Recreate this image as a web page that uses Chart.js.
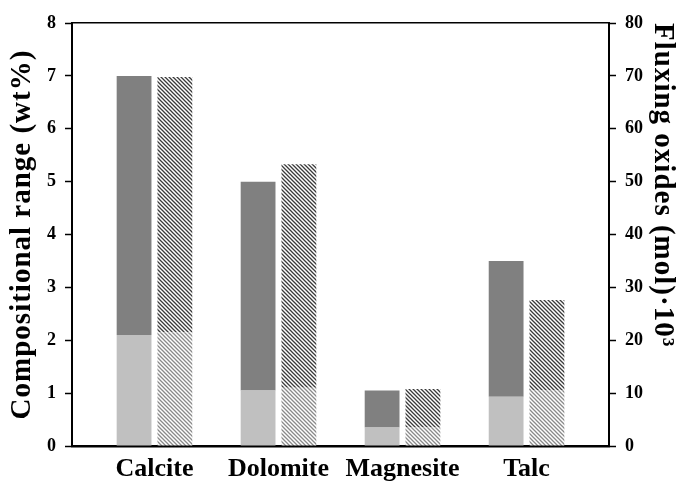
<!DOCTYPE html>
<html>
<head>
<meta charset="utf-8">
<script src="https://cdn.jsdelivr.net/npm/chart.js@4"></script>
<style>
html,body{margin:0;padding:0;background:#fff;}
#wrap{width:681px;height:481px;}
</style>
</head>
<body>
<div id="wrap"><canvas id="c" width="681" height="481"></canvas></div>
<script>
// ---- data ----
const categories = ['Calcite', 'Dolomite', 'Magnesite', 'Talc'];
const compMin = [2.1, 1.05, 0.35, 0.93];      // wt%, light grey part
const compMax = [7.0, 5.0, 1.05, 3.5];        // wt%, top of solid bar
const fluxLow = [21.5, 11.0, 3.5, 10.5];      // mol*10^3, light hatch part
const fluxHigh = [69.8, 53.3, 10.8, 27.6];    // mol*10^3, top of hatched bar
const leftTicks = [0, 1, 2, 3, 4, 5, 6, 7, 8];
const rightTicks = [0, 10, 20, 30, 40, 50, 60, 70, 80];

function hatch(color, lw) {
  const s = 4;
  const cv = document.createElement('canvas');
  cv.width = s; cv.height = s;
  const g = cv.getContext('2d');
  g.fillStyle = '#ffffff';
  g.fillRect(0, 0, s, s);
  g.strokeStyle = color;
  g.lineWidth = lw;
  g.beginPath();
  g.moveTo(-1, -1); g.lineTo(s + 1, s + 1);
  g.moveTo(-1, s - 1); g.lineTo(1, s + 1);
  g.moveTo(s - 1, -1); g.lineTo(s + 1, 1);
  g.stroke();
  return document.getElementById('c').getContext('2d').createPattern(cv, 'repeat');
}

const serif = "'Liberation Serif', 'Times New Roman', serif";

// slight letter spacing on the axis titles, as in the original figure
const titleSpacing = {
  id: 'titleSpacing',
  afterUpdate(chart) {
    [['y', '1px'], ['y1', '1px']].forEach(([id, sp]) => {
      const s = chart.scales[id];
      if (s && !s._spaced) {
        const orig = s.drawTitle.bind(s);
        s.drawTitle = function () {
          const ctx = this.ctx;
          const prev = ctx.letterSpacing;
          ctx.letterSpacing = sp;
          orig();
          ctx.letterSpacing = prev === undefined ? '0px' : prev;
        };
        s._spaced = true;
      }
    });
  }
};

const data = {
  datasets: [
    { label: 'min', stack: 'comp', yAxisID: 'y', backgroundColor: '#c0c0c0',
      data: categories.map((c, i) => ({ x: i, y: [0, compMin[i]] })) },
    { label: 'range', stack: 'comp', yAxisID: 'y', backgroundColor: '#808080',
      data: categories.map((c, i) => ({ x: i, y: [compMin[i], compMax[i]] })) },
    { label: 'fluxLow', stack: 'flux', yAxisID: 'y1', backgroundColor: hatch('#8a8a8a', 1.3),
      data: categories.map((c, i) => ({ x: i, y: [0, fluxLow[i]] })) },
    { label: 'fluxHigh', stack: 'flux', yAxisID: 'y1', backgroundColor: hatch('#3a3a3a', 1.3),
      data: categories.map((c, i) => ({ x: i, y: [fluxLow[i], fluxHigh[i]] })) }
  ]
};

new Chart(document.getElementById('c'), {
  type: 'bar',
  data: data,
  plugins: [titleSpacing],
  options: {
    responsive: false,
    animation: false,
    categoryPercentage: 0.658,
    barPercentage: 0.853,
    layout: { padding: { top: 23, left: 0, right: 0, bottom: 0 } },
    plugins: { legend: { display: false }, tooltip: { enabled: false } },
    scales: {
      x: {
        type: 'linear', position: 'bottom', offset: false,
        min: -0.665, max: 3.665,
        afterBuildTicks: s => { s.ticks = categories.map((c, i) => ({ value: i })); },
        afterFit: s => { s.height = 35; },
        grid: { display: false, drawTicks: false, offset: false },
        border: { display: true, color: '#000', width: 2.5 },
        ticks: { color: '#000', padding: 8, font: { family: serif, weight: 'bold', size: 26 },
                 maxRotation: 0, autoSkip: false,
                 callback: v => categories[v] }
      },
      xTop: {
        type: 'linear', position: 'top', offset: false, min: -0.665, max: 3.665,
        afterFit: s => { s.height = 0; },
        grid: { display: false, drawTicks: false },
        border: { display: true, color: '#000', width: 1.5 },
        ticks: { display: false }
      },
      y: {
        position: 'left', min: 0, max: 8, stacked: false,
        afterBuildTicks: s => { s.ticks = leftTicks.map(v => ({ value: v })); },
        afterFit: s => { s.width = 72; },
        grid: { drawOnChartArea: false, tickLength: 7, tickColor: '#000', tickWidth: 1.5 },
        border: { display: true, color: '#000', width: 2 },
        ticks: { color: '#000', padding: 9, font: { family: serif, weight: 'bold', size: 18 } },
        title: { display: true, text: 'Compositional range (wt%)', color: '#000',
                 padding: { top: 5, bottom: 0 }, font: { family: serif, weight: 'bold', size: 29 } }
      },
      y1: {
        position: 'right', min: 0, max: 80, stacked: false,
        afterBuildTicks: s => { s.ticks = rightTicks.map(v => ({ value: v })); },
        afterFit: s => { s.width = 72; },
        grid: { drawOnChartArea: false, tickLength: 7, tickColor: '#000', tickWidth: 1.5 },
        border: { display: true, color: '#000', width: 2 },
        ticks: { color: '#000', padding: 9, font: { family: serif, weight: 'bold', size: 18 } },
        title: { display: true, text: 'Fluxing oxides (mol)·10³', color: '#000', align: 'end',
                 padding: { top: 1, bottom: 0 }, font: { family: serif, weight: 'bold', size: 29 } }
      }
    }
  }
});
</script>
</body>
</html>
